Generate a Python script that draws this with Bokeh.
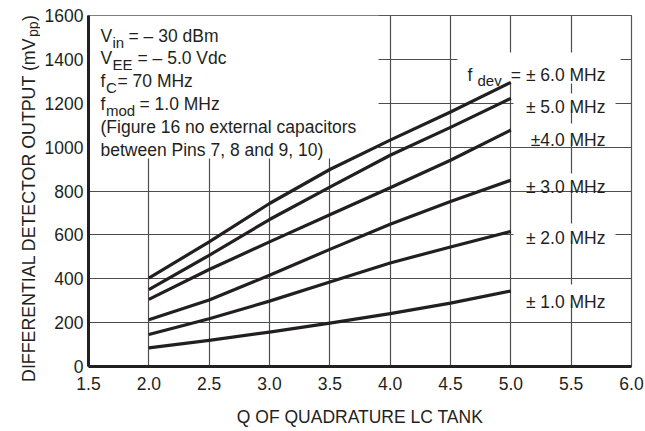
import math
from bokeh.plotting import figure
from bokeh.layouts import row
from bokeh.models import Label, BoxAnnotation, FixedTicker, PrintfTickFormatter, Range1d
from bokeh.embed import file_html
from bokeh.resources import INLINE

# ---------------- data ----------------
q_values = [2.0, 2.5, 3.0, 3.5, 4.0, 4.5, 5.0]
dev_6 = [403, 568, 743, 898, 1032, 1160, 1295]
dev_5 = [350, 507, 670, 818, 963, 1090, 1222]
dev_4 = [306, 442, 568, 692, 815, 940, 1078]
dev_3 = [213, 303, 416, 534, 648, 752, 849]
dev_2 = [146, 218, 298, 385, 472, 545, 616]
dev_1 = [85, 119, 157, 198, 241, 289, 344]

series_values = [dev_6, dev_5, dev_4, dev_3, dev_2, dev_1]
series_labels = ["= \u00b1 6.0 MHz", "\u00b1 5.0 MHz", "\u00b14.0 MHz",
                 "\u00b1 3.0 MHz", "\u00b1 2.0 MHz", "\u00b1 1.0 MHz"]

x_ticks = [1.5, 2.0, 2.5, 3.0, 3.5, 4.0, 4.5, 5.0, 5.5, 6.0]
y_ticks = [0, 200, 400, 600, 800, 1000, 1200, 1400, 1600]

x_title = "Q OF QUADRATURE LC TANK"
y_title = "DIFFERENTIAL DETECTOR OUTPUT (mV"

# ---------------- layout helpers (reference pixel -> data) ----------------
REF_L, REF_R, REF_T, REF_B = 88.0, 631.0, 15.0, 366.0
def px2x(px):
    return 1.5 + (px - REF_L) * 4.5 / (REF_R - REF_L)
def py2y(py):
    return (REF_B - py) * 1600.0 / (REF_B - REF_T)

FONT = "Liberation Sans"
FS = "17.5px"
SUB = "15px"
INK = "#231f20"
TITLE_W = 40
H = 431

# ---------------- narrow strip holding the rotated y-axis title ----------------
t = figure(width=TITLE_W, height=H, output_backend="svg", toolbar_location=None,
           min_border=0, x_axis_type=None, y_axis_type=None,
           x_range=Range1d(0, TITLE_W), y_range=Range1d(0, H))
if "frame_align" in t.properties():
    t.frame_align = False
t.outline_line_color = None
t.background_fill_color = "white"
t.border_fill_color = "white"
t.xgrid.visible = False
t.ygrid.visible = False

def tlab(px, py, text, size=FS, align="left"):
    t.add_layout(Label(x=px, y=H - py, text=text, text_font=FONT, text_font_size=size,
                       text_color=INK, text_align=align, text_baseline="alphabetic",
                       angle=math.pi / 2))

tlab(28, 37, y_title, size="17.8px", align="right")
tlab(32.5, 36.5, "pp", size="14px")
tlab(28, 20.5, ")", size="17.8px")

# ---------------- main chart ----------------
p = figure(width=645 - TITLE_W, height=H, output_backend="svg", toolbar_location=None,
           min_border_left=88 - TITLE_W, min_border_right=14, min_border_top=15,
           min_border_bottom=65, x_range=Range1d(1.5, 6.0), y_range=Range1d(0, 1600))
if "frame_align" in p.properties():
    p.frame_align = False
p.background_fill_color = "white"
p.border_fill_color = "white"
p.outline_line_color = "#555555"
p.outline_line_width = 1.2

for ax in (p.xaxis[0], p.yaxis[0]):
    ax.axis_line_width = 3
    ax.axis_line_color = INK
    ax.major_tick_in = 0
    ax.major_tick_out = 0
    ax.minor_tick_in = 0
    ax.minor_tick_out = 0
    ax.major_label_text_font = FONT
    ax.major_label_text_font_size = FS
    ax.major_label_text_color = INK

p.xaxis.ticker = FixedTicker(ticks=x_ticks)
p.xaxis.formatter = PrintfTickFormatter(format="%.1f")
p.xaxis.major_label_standoff = 10
p.xaxis.axis_label = x_title
p.xaxis.axis_label_text_font = FONT
p.xaxis.axis_label_text_font_size = FS
p.xaxis.axis_label_text_font_style = "normal"
p.xaxis.axis_label_text_color = INK
p.xaxis.axis_label_standoff = 14

p.yaxis.ticker = FixedTicker(ticks=y_ticks)
p.yaxis.major_label_standoff = 5

p.xgrid.ticker = FixedTicker(ticks=x_ticks)
p.ygrid.ticker = FixedTicker(ticks=y_ticks)
for g in (p.xgrid[0], p.ygrid[0]):
    g.grid_line_color = "#4d4d4d"
    g.grid_line_width = 1.2

# white masks behind the texts (drawn under the curves, over the grid)
mask_boxes = [
    (88, 378, 15, 158),     # condition block
    (457, 620, 52, 83),     # f dev = 6.0
    (513, 615, 93, 108),    # 5.0
    (527, 608, 123, 140),   # 4.0
    (523, 608, 173, 189),   # 3.0
    (513, 615, 223, 240),   # 2.0
    (513, 615, 284, 303),   # 1.0
]
for l, r, tp, b in mask_boxes:
    p.add_layout(BoxAnnotation(left=px2x(l), right=px2x(r), top=py2y(tp), bottom=py2y(b),
                               fill_color="white", fill_alpha=1.0, line_alpha=0,
                               level="underlay"))

for vals in series_values:
    p.line(q_values, vals, line_color=INK, line_width=3.2, line_join="round", line_cap="butt")

def lab(px, py, text, size=FS, align="left"):
    p.add_layout(Label(x=px2x(px), y=py2y(py), text=text, text_font=FONT,
                       text_font_size=size, text_color=INK, text_align=align,
                       text_baseline="alphabetic"))

# right-hand labels
label_baselines = [74, 106.5, 139, 186.5, 237.5, 301.5]
for text, base in zip(series_labels, label_baselines):
    lab(605, base, text, align="right")
lab(467, 74, "f")
lab(477, 79.5, "dev", size=SUB)

# condition block
lab(100, 35, "V"); lab(112, 41.5, "in", size=SUB); lab(128, 35, "= \u2013 30 dBm")
lab(100, 57.5, "V"); lab(112, 64, "EE", size=SUB); lab(137, 57.5, "= \u2013 5.0 Vdc")
lab(100, 80.5, "f"); lab(105.5, 87, "C", size=SUB); lab(117, 80.5, "= 70 MHz")
lab(100, 103, "f"); lab(105.5, 109.5, "mod", size=SUB); lab(139, 103, "= 1.0 MHz")
lab(100, 126, "(Figure 16 no external capacitors")
lab(100, 149, "between Pins 7, 8 and 9, 10)")

layout = row(t, p, spacing=0)
open("out.html", "w").write(file_html(layout, INLINE))
